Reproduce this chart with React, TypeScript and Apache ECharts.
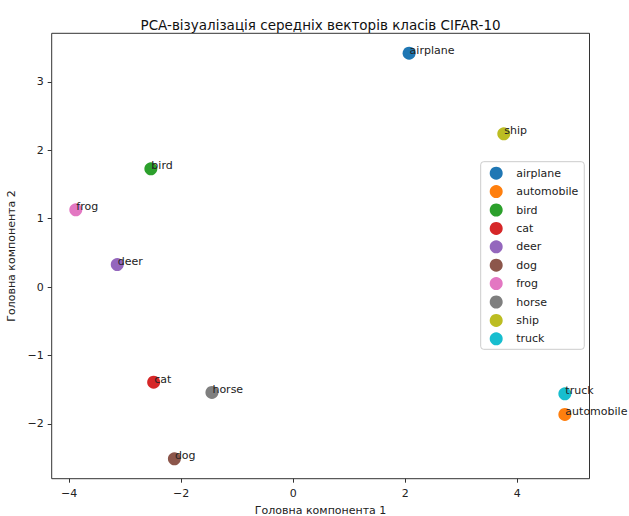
import React, { useEffect, useRef } from "react";
import * as echarts from "echarts";

const classNames = ["airplane", "automobile", "bird", "cat", "deer", "dog", "frog", "horse", "ship", "truck"];
const pc1 = [2.07, 4.85, -2.54, -2.49, -3.14, -2.12, -3.88, -1.45, 3.76, 4.85];
const pc2 = [3.42, -1.86, 1.73, -1.39, 0.33, -2.51, 1.13, -1.54, 2.24, -1.56];
const colors = ["#1f77b4", "#ff7f0e", "#2ca02c", "#d62728", "#9467bd", "#8c564b", "#e377c2", "#7f7f7f", "#bcbd22", "#17becf"];
const xTicks = [-4, -2, 0, 2, 4];
const yTicks = [-2, -1, 0, 1, 2, 3];

const FONT = "DejaVu Sans";
const fmt = (v: number) => (v < 0 ? "\u2212" + Math.abs(v) : String(v));

export default function App() {
  const ref = useRef<HTMLDivElement>(null);
  useEffect(() => {
    if (!ref.current) return;
    const chart = echarts.init(ref.current, null, { renderer: "svg" });
    const series = classNames.map((name, i) => ({
      type: "scatter",
      name,
      data: [[pc1[i], pc2[i]]],
      symbol: "circle",
      symbolSize: 13,
      itemStyle: { color: colors[i], opacity: 1 },
      label: {
        show: true,
        formatter: name,
        position: [7, 9],
        align: "left",
        verticalAlign: "bottom",
        color: "#222",
        fontFamily: FONT,
        fontSize: 11,
      },
      emphasis: { disabled: true },
    }));
    chart.setOption({
      animation: false,
      backgroundColor: "#fff",
      graphic: [
        {
          type: "text",
          x: 320.6,
          y: 25,
          style: {
            text: "PCA-візуалізація середніх векторів класів CIFAR-10",
            textAlign: "center",
            textVerticalAlign: "middle",
            fontFamily: FONT,
            fontSize: 13.5,
            fill: "#111",
          },
        },
      ],
      grid: {
        left: 51.7,
        right: 39.5,
        top: 33.3,
        bottom: 37.3,
        outerBoundsMode: "none",
        containLabel: false,
        show: true,
        borderColor: "#333",
        borderWidth: 1,
        backgroundColor: "transparent",
      },
      xAxis: {
        type: "value",
        min: -4.31,
        max: 5.29,
        name: "Головна компонента 1",
        nameLocation: "middle",
        nameGap: 26,
        nameTextStyle: { fontFamily: FONT, fontSize: 11, color: "#222" },
        axisLine: { show: false, onZero: false },
        splitLine: { show: false },
        axisTick: { show: true, length: 4, lineStyle: { color: "#333" }, customValues: xTicks },
        axisLabel: { customValues: xTicks, formatter: fmt, fontFamily: FONT, fontSize: 11, color: "#222", margin: 9 },
      },
      yAxis: {
        type: "value",
        min: -2.8,
        max: 3.71,
        name: "Головна компонента 2",
        nameLocation: "middle",
        nameGap: 31,
        nameTextStyle: { fontFamily: FONT, fontSize: 11, color: "#222" },
        axisLine: { show: false, onZero: false },
        splitLine: { show: false },
        axisTick: { show: true, length: 4, lineStyle: { color: "#333" }, customValues: yTicks },
        axisLabel: { customValues: yTicks, formatter: fmt, fontFamily: FONT, fontSize: 11, color: "#222", margin: 8 },
      },
      legend: {
        orient: "vertical",
        left: 480.7,
        top: 161.7,
        padding: [5, 6, 4, 9],
        itemWidth: 13,
        itemHeight: 13,
        itemGap: 5.4,
        icon: "circle",
        data: classNames,
        borderColor: "#ccc",
        borderWidth: 1,
        borderRadius: 3,
        backgroundColor: "rgba(255,255,255,0.8)",
        selectedMode: false,
        textStyle: { fontFamily: FONT, fontSize: 11, color: "#222", padding: [0, 0, 0, 8.5] },
      },
      series,
    });
    return () => chart.dispose();
  }, []);
  return <div ref={ref} style={{ position: "absolute", left: 0, top: 0, width: 629, height: 516 }} />;
}
